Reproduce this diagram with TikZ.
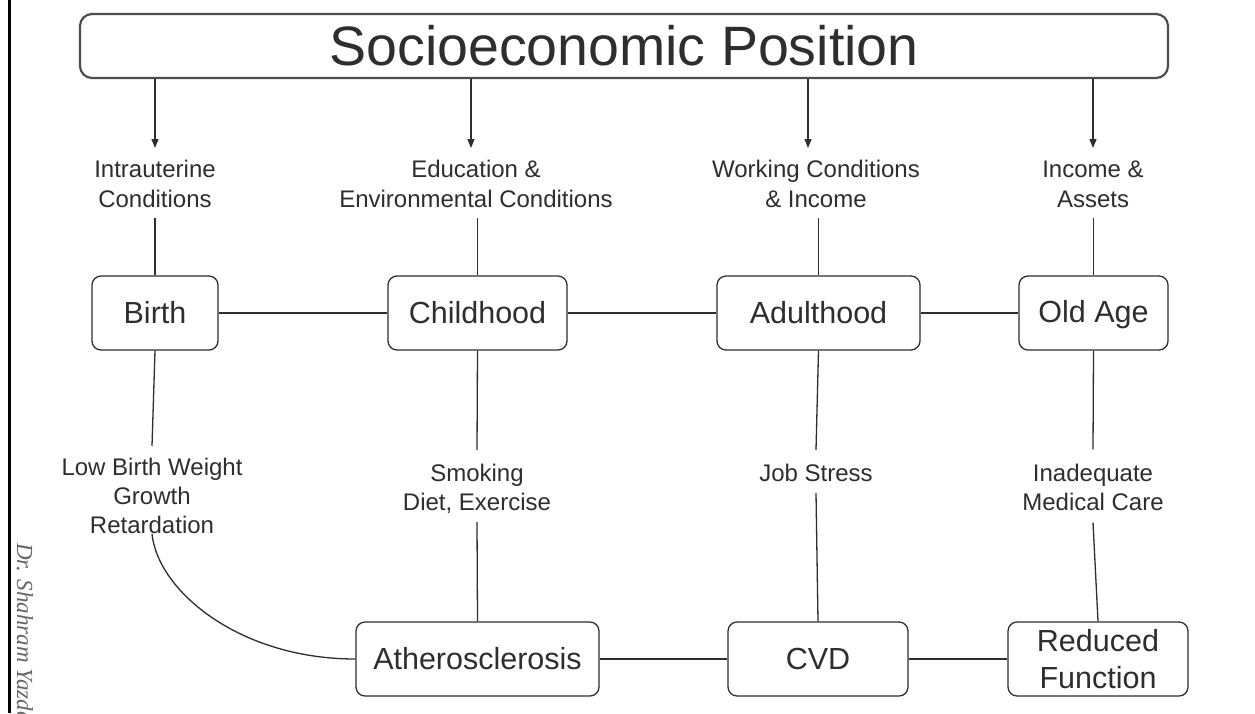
\documentclass[tikz,border=0pt]{standalone}
\usepackage{fontspec}
\setmainfont{Liberation Sans}
\newfontfamily\sigfont{Liberation Serif}
\usetikzlibrary{arrows.meta,calc}
\definecolor{ink}{HTML}{2E2E2E}
\definecolor{frame}{HTML}{4D4D4D}
\definecolor{sigcol}{HTML}{666666}

\begin{document}
\begin{tikzpicture}[x=1pt,y=-1pt,
  stage/.style={draw=ink, line width=1.3pt, rounded corners=9pt, minimum height=74pt,
    text=ink, font=\fontsize{30.5}{37}\selectfont, inner sep=0pt, align=center},
  lbl/.style={text=ink, align=center, inner sep=0pt, font=\fontsize{24}{29}\selectfont},
  toplbl/.style={lbl, font=\fontsize{24}{30}\selectfont},
  link/.style={draw=ink, line width=1.3pt},
  arr/.style={link, -{Triangle[width=7pt,length=9pt]}}]

\useasboundingbox (0,0) rectangle (1255,713);
\clip (0,0) rectangle (1255,713);
\fill[white] (0,0) rectangle (1255,713);

% banner
\node[draw=frame, line width=2.2pt, rounded corners=12pt, minimum width=1088pt,
  minimum height=64pt, inner sep=0pt, text=ink, font=\fontsize{55.5}{60}\selectfont]
  (sep) at (624,46) {Socioeconomic Position};

% influences from socioeconomic position
\node[toplbl] (l1) at (155,184)  {Intrauterine\\Conditions};
\node[toplbl] (l2) at (476,184)  {Education \&\\Environmental Conditions};
\node[toplbl] (l3) at (816,184)  {Working Conditions\\\& Income};
\node[toplbl] (l4) at (1093,184) {Income \&\\Assets};

% life stages
\node[stage, minimum width=126pt] (birth) at (155,313)    {Birth};
\node[stage, minimum width=179pt] (child) at (477.5,313)  {Childhood};
\node[stage, minimum width=203pt] (adult) at (818.5,313)  {Adulthood};
\node[stage, minimum width=149pt] (old)   at (1093.5,313) {\raisebox{0pt}[\height][3pt]{Old Age}};

% risk factors
\node[lbl] (l5) at (152,496)  {Low Birth Weight\\Growth\\Retardation};
\node[lbl] (l6) at (477,489)  {Smoking\\Diet, Exercise};
\node[lbl] (l7) at (816,473)  {Job Stress};
\node[lbl] (l8) at (1093,487) {Inadequate\\Medical Care};

% outcomes
\node[stage, minimum width=243pt] (ath) at (477.5,659) {Atherosclerosis};
\node[stage, minimum width=180pt] (cvd) at (818,659)   {CVD};
\node[stage, minimum width=180pt] (red) at (1098,659)  {Reduced\\Function};

% arrows out of the banner
\coordinate (t1) at (155,148);
\coordinate (t2) at (471,148);
\coordinate (t3) at (808,148);
\coordinate (t4) at (1093,148);
\foreach \t in {t1,t2,t3,t4} \draw[arr] (sep.south -| \t) -- (\t);

% influences down to stages
\draw[link] ($(l1.south -| birth.north)+(0,10)$) -- (birth.north);
\draw[link] ($(l2.south -| child.north)+(0,10)$) -- (child.north);
\draw[link] ($(l3.south -| adult.north)+(0,10)$) -- (adult.north);
\draw[link] ($(l4.south -| old.north)+(0,10)$)   -- (old.north);

% stages in sequence
\draw[link] (birth) -- (child);
\draw[link] (child) -- (adult);
\draw[link] (adult) -- (old);

% stages down to risk factors
\draw[link] (birth.south) -- ($(l5.north)+(0,-12)$);
\draw[link] (child.south) -- ($(l6.north)+(0,-14)$);
\draw[link] (adult.south) -- ($(l7.north)+(0,-14)$);
\draw[link] (old.south)   -- ($(l8.north)+(0,-14)$);

% risk factors down to outcomes
\draw[link] (l5.south) .. controls +(6,57) and +(-116,0) .. (ath.west);
\draw[link] ($(l6.south)+(0,8)$)  -- (ath.north);
\draw[link] ($(l7.south)+(0,11)$) -- (cvd.north);
\draw[link] ($(l8.south)+(0,12)$) -- (red.north);

% outcomes in sequence
\draw[link] (ath) -- (cvd);
\draw[link] (cvd) -- (red);

% left rule and signature
\draw[black, line width=2.5pt] (9.5,0) -- (9.5,713);
\node[rotate=-90, anchor=west, inner sep=0pt, text=sigcol,
  font=\sigfont\itshape\fontsize{23}{26}\selectfont] (sig) at (25,543) {Dr. Shahram Yazdani};
\end{tikzpicture}
\end{document}
